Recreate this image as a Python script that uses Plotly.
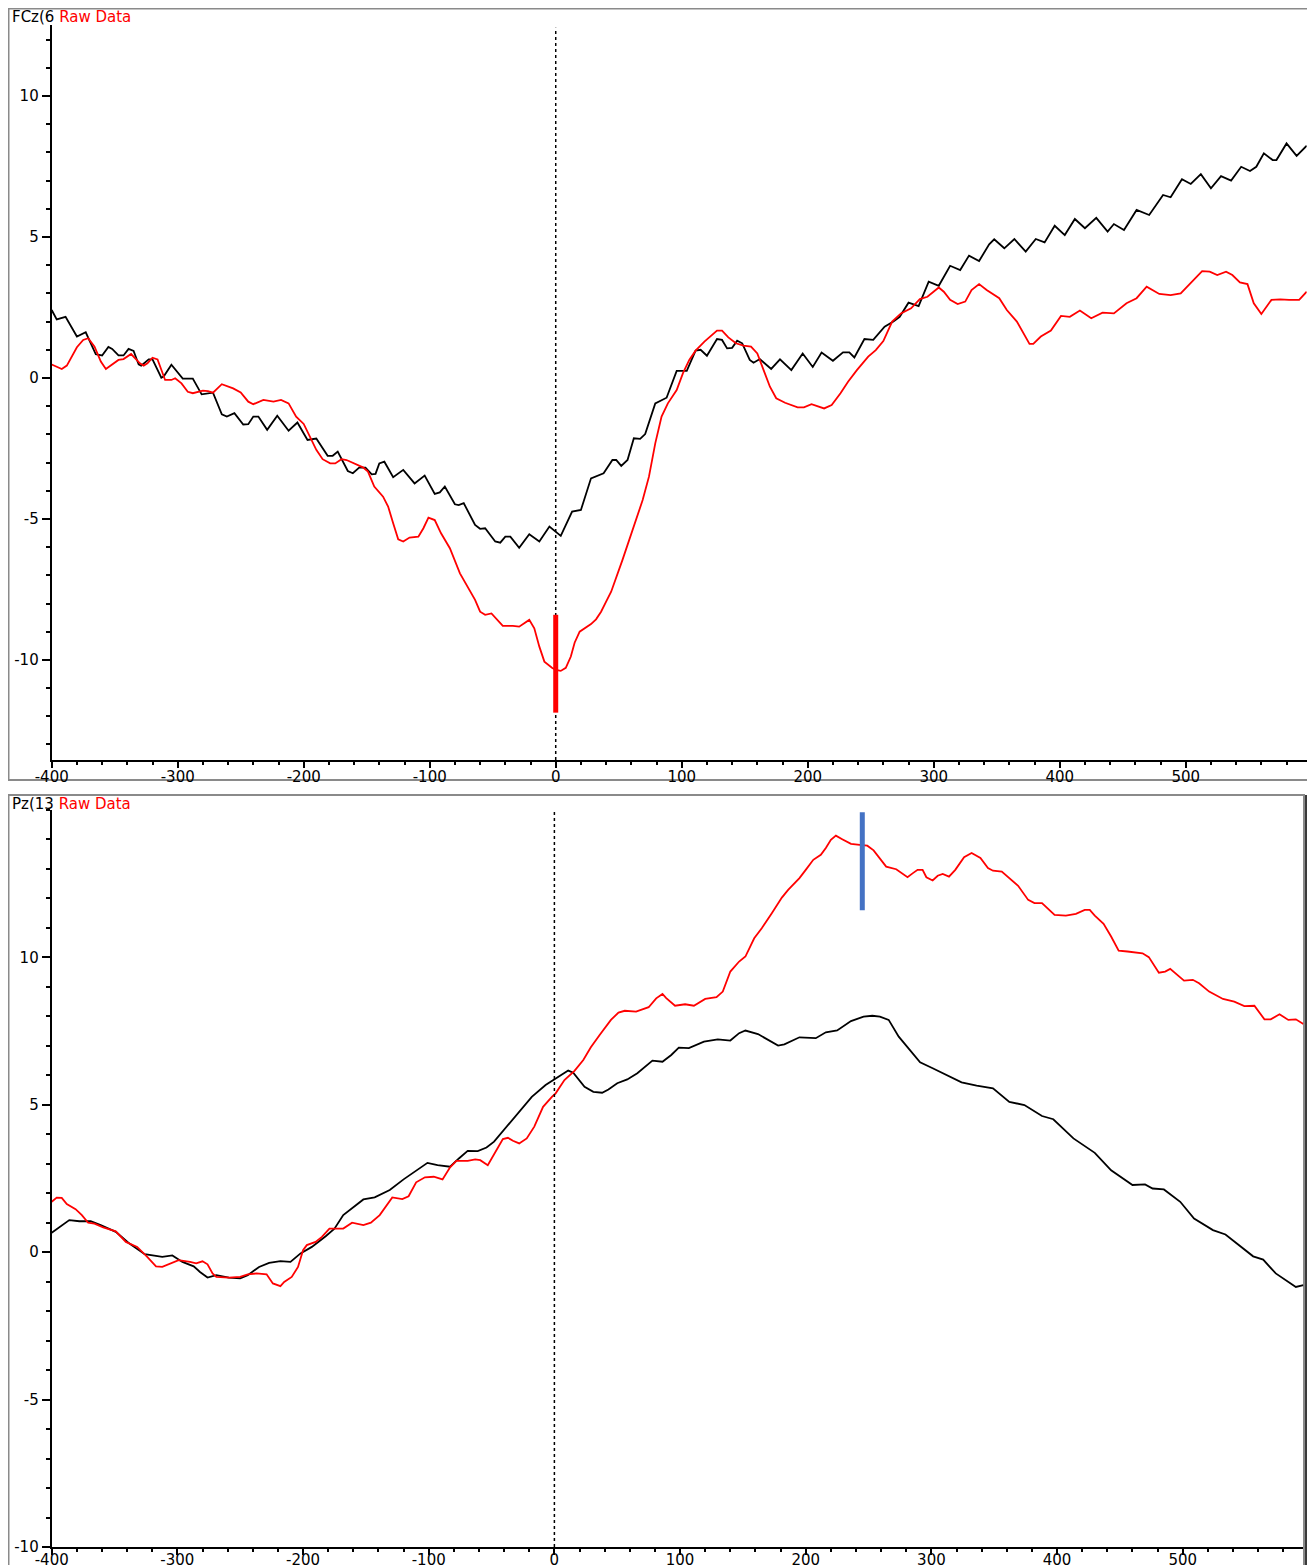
import plotly.graph_objs as go


# ---------------------------
# Data (ms, microvolts)
# ---------------------------

fcz_black_t = [-400, -396, -389, -380, -373, -365, -360, -355, -352, -347, -343, -339, -335, -331, -329,
               -323, -320, -313, -311, -305, -296, -288, -281, -272, -265, -261, -255, -248, -244, -240,
               -236, -229, -221, -212, -205, -197, -190, -181, -177, -173, -165, -161, -156, -151, -146,
               -143, -140, -136, -129, -121, -112, -104, -96, -92, -88, -80, -77, -73, -64, -60, -56,
               -48, -44, -40, -36, -29, -21, -13, -5, 4, 13, 20, 28, 34, 38, 45, 48, 52, 57, 62, 67, 71,
               79, 88, 96, 104, 111, 115, 120, 128, 132, 136, 140, 144, 148, 154, 157, 162, 171, 178, 187,
               196, 204, 211, 220, 228, 233, 237, 245, 252, 261, 268, 273, 280, 288, 296, 304, 313, 321,
               328, 336, 344, 348, 356, 364, 373, 381, 388, 396, 404, 412, 420, 429, 438, 443, 451, 461,
               471, 482, 488, 497, 504, 512, 520, 528, 536, 544, 551, 556, 562, 569, 572, 580, 588, 596]
fcz_black_v = [2.41, 2.08, 2.17, 1.47, 1.62, 0.84, 0.80, 1.10, 1.03, 0.80, 0.80, 1.03, 0.96, 0.48, 0.44,
               0.66, 0.66, 0.01, 0.06, 0.47, -0.02, -0.02, -0.58, -0.52, -1.29, -1.37, -1.25, -1.65, -1.64,
               -1.37, -1.37, -1.84, -1.34, -1.87, -1.58, -2.20, -2.15, -2.76, -2.76, -2.61, -3.30, -3.38,
               -3.18, -3.18, -3.42, -3.40, -3.03, -2.97, -3.52, -3.26, -3.74, -3.46, -4.11, -4.06, -3.85,
               -4.48, -4.51, -4.44, -5.21, -5.35, -5.33, -5.80, -5.84, -5.63, -5.63, -6.02, -5.54, -5.80,
               -5.27, -5.60, -4.74, -4.68, -3.56, -3.44, -3.38, -2.91, -2.91, -3.12, -2.91, -2.14, -2.16,
               -1.99, -0.90, -0.70, 0.25, 0.25, 0.97, 1.00, 0.79, 1.38, 1.35, 1.05, 1.07, 1.32, 1.23, 0.64,
               0.54, 0.67, 0.32, 0.66, 0.28, 0.87, 0.39, 0.90, 0.61, 0.91, 0.91, 0.73, 1.38, 1.35, 1.82,
               2.00, 2.17, 2.67, 2.55, 3.42, 3.27, 3.98, 3.83, 4.34, 4.15, 4.74, 4.92, 4.60, 4.93, 4.48,
               4.93, 4.81, 5.40, 5.07, 5.64, 5.31, 5.68, 5.19, 5.46, 5.25, 5.96, 5.78, 6.49, 6.41, 7.05,
               6.88, 7.23, 6.73, 7.16, 7.00, 7.49, 7.34, 7.49, 7.97, 7.73, 7.73, 8.32, 7.88, 8.24]

fcz_red_t = [-400, -392, -388, -380, -375, -371, -366, -361, -357, -347, -343, -337, -330, -327, -324,
             -320, -316, -310, -305, -302, -297, -292, -288, -280, -276, -272, -265, -256, -250, -244,
             -240, -232, -224, -218, -212, -206, -200, -195, -190, -185, -179, -175, -170, -166, -160,
             -153, -149, -144, -137, -133, -129, -125, -121, -116, -109, -105, -101, -96, -91, -84, -76,
             -70, -64, -60, -56, -51, -47, -42, -34, -29, -21, -17, -13, -9, -3, 0, 4, 8, 12, 15, 19,
             24, 28, 32, 36, 40, 44, 53, 61, 69, 74, 79, 84, 89, 96, 101, 106, 111, 118, 128, 132, 137,
             143, 149, 155, 160, 165, 170, 175, 182, 192, 197, 203, 213, 219, 226, 232, 239, 248, 254,
             260, 267, 274, 282, 289, 295, 304, 308, 313, 319, 325, 330, 336, 342, 352, 358, 366, 376,
             379, 385, 393, 401, 408, 416, 425, 434, 443, 453, 461, 469, 479, 488, 496, 504, 513, 519,
             525, 532, 537, 543, 549, 554, 560, 568, 575, 582, 590, 596]
fcz_red_v = [0.48, 0.32, 0.44, 1.09, 1.35, 1.41, 1.11, 0.58, 0.32, 0.64, 0.67, 0.85, 0.52, 0.44, 0.52,
             0.72, 0.66, -0.07, -0.07, -0.01, -0.19, -0.49, -0.54, -0.45, -0.47, -0.52, -0.22, -0.37,
             -0.51, -0.84, -0.93, -0.78, -0.84, -0.78, -0.90, -1.37, -1.63, -2.08, -2.55, -2.88, -3.03,
             -3.03, -2.88, -2.91, -3.03, -3.17, -3.32, -3.85, -4.21, -4.56, -5.15, -5.72, -5.80, -5.66,
             -5.63, -5.33, -4.95, -5.04, -5.51, -6.04, -6.93, -7.38, -7.87, -8.29, -8.40, -8.35, -8.56,
             -8.79, -8.79, -8.82, -8.58, -8.88, -9.53, -10.06, -10.28, -10.35, -10.39, -10.28, -9.88,
             -9.39, -9.00, -8.84, -8.73, -8.56, -8.29, -7.93, -7.58, -6.45, -5.39, -4.33, -3.50, -2.32,
             -1.37, -0.90, -0.43, 0.17, 0.64, 0.97, 1.29, 1.68, 1.68, 1.44, 1.23, 1.15, 1.11, 0.87, 0.28,
             -0.31, -0.72, -0.88, -1.04, -1.04, -0.93, -1.08, -0.96, -0.54, -0.13, 0.28, 0.76, 0.99,
             1.31, 2.00, 2.29, 2.47, 2.80, 2.88, 3.21, 3.06, 2.77, 2.62, 2.71, 3.12, 3.33, 3.12, 2.83,
             2.41, 2.00, 1.21, 1.21, 1.47, 1.68, 2.20, 2.17, 2.39, 2.12, 2.32, 2.29, 2.65, 2.83, 3.24,
             2.98, 2.94, 3.00, 3.36, 3.79, 3.77, 3.65, 3.77, 3.65, 3.39, 3.33, 2.65, 2.27, 2.77, 2.79,
             2.77, 2.77, 3.06]

pz_black_t = [-400, -394, -386, -378, -369, -361, -349, -339, -326, -312, -304, -296, -287, -282, -276,
              -269, -259, -250, -244, -235, -227, -218, -210, -202, -193, -182, -175, -168, -160, -152,
              -143, -131, -120, -111, -101, -93, -83, -76, -69, -61, -54, -48, -39, -28, -18, -7, 1, 11,
              15, 24, 31, 38, 43, 50, 58, 66, 78, 86, 93, 99, 107, 119, 130, 140, 147, 152, 162, 170,
              178, 183, 195, 208, 216, 225, 236, 246, 253, 259, 266, 274, 283, 291, 301, 312, 324, 336,
              349, 362, 374, 388, 397, 413, 430, 443, 460, 470, 476, 485, 498, 509, 524, 534, 546, 556,
              564, 574, 590, 596]
pz_black_v = [0.66, 0.84, 1.09, 1.05, 1.05, 0.92, 0.69, 0.32, -0.07, -0.16, -0.11, -0.33, -0.48, -0.67,
              -0.86, -0.78, -0.86, -0.89, -0.78, -0.50, -0.36, -0.30, -0.33, -0.04, 0.18, 0.54, 0.80,
              1.26, 1.52, 1.79, 1.86, 2.11, 2.47, 2.73, 3.03, 2.95, 2.90, 3.18, 3.44, 3.43, 3.55, 3.75,
              4.20, 4.74, 5.27, 5.67, 5.90, 6.16, 6.09, 5.61, 5.44, 5.41, 5.52, 5.73, 5.86, 6.07, 6.50,
              6.46, 6.69, 6.94, 6.92, 7.14, 7.22, 7.18, 7.43, 7.52, 7.40, 7.20, 7.01, 7.05, 7.29, 7.26,
              7.46, 7.52, 7.84, 7.99, 8.02, 7.99, 7.88, 7.31, 6.86, 6.44, 6.24, 6.01, 5.76, 5.65, 5.56,
              5.10, 4.99, 4.62, 4.51, 3.86, 3.37, 2.78, 2.28, 2.30, 2.16, 2.13, 1.71, 1.14, 0.75, 0.60,
              0.20, -0.14, -0.25, -0.72, -1.18, -1.12]

pz_red_t = [-400, -396, -392, -388, -381, -376, -371, -366, -359, -349, -341, -332, -324, -317, -312,
            -307, -299, -290, -285, -280, -276, -272, -269, -259, -250, -244, -237, -229, -224, -218,
            -215, -209, -204, -200, -197, -190, -185, -179, -174, -168, -161, -152, -146, -139, -129,
            -121, -116, -110, -103, -96, -89, -83, -78, -69, -63, -59, -53, -46, -41, -37, -33, -28,
            -22, -16, -9, -2, 1, 8, 16, 23, 29, 36, 45, 51, 56, 65, 75, 81, 86, 89, 96, 104, 111, 120,
            129, 134, 140, 147, 152, 159, 165, 173, 181, 186, 195, 200, 206, 212, 216, 220, 224, 229,
            236, 243, 249, 254, 259, 264, 272, 281, 285, 289, 293, 296, 301, 305, 309, 314, 319, 326,
            332, 339, 345, 349, 356, 362, 369, 377, 382, 388, 398, 407, 415, 422, 426, 430, 437, 443,
            449, 456, 468, 473, 481, 486, 490, 501, 508, 513, 521, 532, 541, 549, 557, 565, 570, 577,
            584, 590, 596]
pz_red_v = [1.71, 1.85, 1.84, 1.63, 1.46, 1.26, 1.00, 0.97, 0.84, 0.71, 0.35, 0.18, -0.16, -0.48, -0.50,
            -0.42, -0.27, -0.33, -0.38, -0.31, -0.41, -0.72, -0.84, -0.86, -0.84, -0.75, -0.72, -0.75,
            -1.06, -1.15, -1.01, -0.84, -0.50, 0.07, 0.24, 0.35, 0.52, 0.80, 0.80, 0.80, 1.00, 0.92,
            1.00, 1.26, 1.86, 1.80, 1.90, 2.37, 2.54, 2.56, 2.47, 2.88, 3.10, 3.10, 3.15, 3.12, 2.95,
            3.46, 3.84, 3.88, 3.78, 3.69, 3.86, 4.26, 4.93, 5.27, 5.39, 5.84, 6.15, 6.52, 6.95, 7.37,
            7.88, 8.13, 8.19, 8.16, 8.31, 8.61, 8.76, 8.62, 8.36, 8.41, 8.36, 8.59, 8.65, 8.84, 9.52,
            9.86, 10.03, 10.65, 10.99, 11.50, 12.03, 12.29, 12.69, 12.97, 13.31, 13.48, 13.71, 13.99,
            14.13, 14.01, 13.85, 13.82, 13.79, 13.63, 13.37, 13.08, 12.99, 12.72, 12.85, 12.97, 12.97,
            12.72, 12.61, 12.77, 12.83, 12.74, 12.97, 13.40, 13.54, 13.37, 13.03, 12.94, 12.91, 12.69,
            12.43, 11.95, 11.84, 11.84, 11.44, 11.42, 11.48, 11.61, 11.61, 11.42, 11.14, 10.71, 10.23,
            10.20, 10.14, 10.01, 9.48, 9.52, 9.61, 9.21, 9.24, 9.12, 8.84, 8.59, 8.50, 8.35, 8.36, 7.90,
            7.90, 8.07, 7.88, 7.90, 7.74]

# peak markers: (latency, from, to)
fcz_marker = (0, -8.40, -11.87)
pz_marker = (245, 11.60, 14.92)
onset = 0

x_ticks = [-400, -300, -200, -100, 0, 100, 200, 300, 400, 500]
y_ticks = [-10, -5, 0, 5, 10]
x_range = [-400, 596]
fcz_y_range = [-13.55, 12.52]
pz_y_range = [-10, 15]

# ---------------------------
# Figure
# ---------------------------

W, H = 1315, 1565
OFF = 8  # page body margin
FONT = "DejaVu Sans"


def px(x):
    return (x - OFF) / W


def py(y):
    return 1 - (y - OFF) / H


fig = go.Figure()
fig.add_trace(go.Scatter(x=fcz_black_t, y=fcz_black_v, mode='lines',
                         line=dict(color='black', width=1.8), xaxis='x', yaxis='y'))
fig.add_trace(go.Scatter(x=fcz_red_t, y=fcz_red_v, mode='lines',
                         line=dict(color='#ff0000', width=1.8), xaxis='x', yaxis='y'))
fig.add_trace(go.Scatter(x=pz_black_t, y=pz_black_v, mode='lines',
                         line=dict(color='black', width=1.8), xaxis='x2', yaxis='y2'))
fig.add_trace(go.Scatter(x=pz_red_t, y=pz_red_v, mode='lines',
                         line=dict(color='#ff0000', width=1.8), xaxis='x2', yaxis='y2'))


def xaxis_style(domain, anchor, standoff):
    return dict(domain=domain, anchor=anchor, range=x_range, showgrid=False, zeroline=False,
                automargin=False, showline=True, linecolor='black', linewidth=2,
                tickmode='array', tickvals=x_ticks, ticktext=[str(v) for v in x_ticks],
                ticks='outside', ticklen=6, tickwidth=1.5, tickcolor='black',
                ticklabelstandoff=standoff,
                minor=dict(dtick=20, tick0=0, ticks='outside', ticklen=3, tickwidth=1.5,
                           tickcolor='black', showgrid=False),
                tickfont=dict(family=FONT, size=15, color='black'))


def yaxis_style(domain, anchor, rng):
    return dict(domain=domain, anchor=anchor, range=rng, showgrid=False, zeroline=False,
                automargin=False, showline=True, linecolor='black', linewidth=2,
                tickmode='array', tickvals=y_ticks, ticktext=[str(v) for v in y_ticks],
                ticks='outside', ticklen=8, tickwidth=1.5, tickcolor='black',
                minor=dict(dtick=1, tick0=0, ticks='outside', ticklen=4, tickwidth=1.5,
                           tickcolor='black', showgrid=False),
                tickfont=dict(family=FONT, size=15, color='black'))


top_dom_y = [py(760), py(25)]
bot_dom_y = [py(1547), py(810)]

fig.update_layout(
    template='none',
    width=W, height=H, autosize=False, showlegend=False,
    margin=dict(l=0, r=0, t=0, b=0, pad=0),
    paper_bgcolor='white', plot_bgcolor='white',
    xaxis=xaxis_style([px(51.7), px(1306.7)], 'y', -4),
    yaxis=yaxis_style(top_dom_y, 'x', fcz_y_range),
    xaxis2=xaxis_style([px(51.7), px(1303.4)], 'y2', -8),
    yaxis2=yaxis_style(bot_dom_y, 'x2', pz_y_range),
)

shapes = []
# panel frames
shapes.append(dict(type='rect', xref='paper', yref='paper', x0=px(8.5), x1=px(1309), y0=py(780), y1=py(8.5),
                   line=dict(color='#8a8a8a', width=2), layer='below'))
shapes.append(dict(type='line', xref='paper', yref='paper', x0=px(1311), x1=px(1311), y0=py(780), y1=py(8.5),
                   line=dict(color='#3a3a3a', width=2)))
shapes.append(dict(type='rect', xref='paper', yref='paper', x0=px(8.5), x1=px(1304), y0=py(1585), y1=py(795),
                   line=dict(color='#8a8a8a', width=2), layer='below'))
shapes.append(dict(type='line', xref='paper', yref='paper', x0=px(1306), x1=px(1306), y0=py(1585), y1=py(795),
                   line=dict(color='#3a3a3a', width=2)))
# stimulus onset lines
shapes.append(dict(type='line', xref='x', yref='y', x0=onset, x1=onset,
                   y0=fcz_y_range[0], y1=fcz_y_range[1] - 0.1,
                   line=dict(color='black', width=1.5, dash='dot')))
shapes.append(dict(type='line', xref='x2', yref='y2', x0=onset, x1=onset,
                   y0=pz_y_range[0], y1=pz_y_range[1],
                   line=dict(color='black', width=1.5, dash='dot')))
# peak markers
shapes.append(dict(type='line', xref='x', yref='y', x0=fcz_marker[0], x1=fcz_marker[0],
                   y0=fcz_marker[1], y1=fcz_marker[2], line=dict(color='#ff0000', width=5)))
shapes.append(dict(type='line', xref='x2', yref='y2', x0=pz_marker[0], x1=pz_marker[0],
                   y0=pz_marker[1], y1=pz_marker[2], line=dict(color='#4472c4', width=5)))
fig.update_layout(shapes=shapes)

fig.add_annotation(xref='paper', yref='paper', x=px(10), y=py(17), xanchor='left', yanchor='middle',
                   text="FCz(6 <span style='color:#ff0000'>Raw Data</span>", showarrow=False,
                   font=dict(family=FONT, size=15, color='black'))
fig.add_annotation(xref='paper', yref='paper', x=px(10), y=py(804), xanchor='left', yanchor='middle',
                   text="Pz(13 <span style='color:#ff0000'>Raw Data</span>", showarrow=False,
                   font=dict(family=FONT, size=15, color='black'))

fig.write_html("out.html")
